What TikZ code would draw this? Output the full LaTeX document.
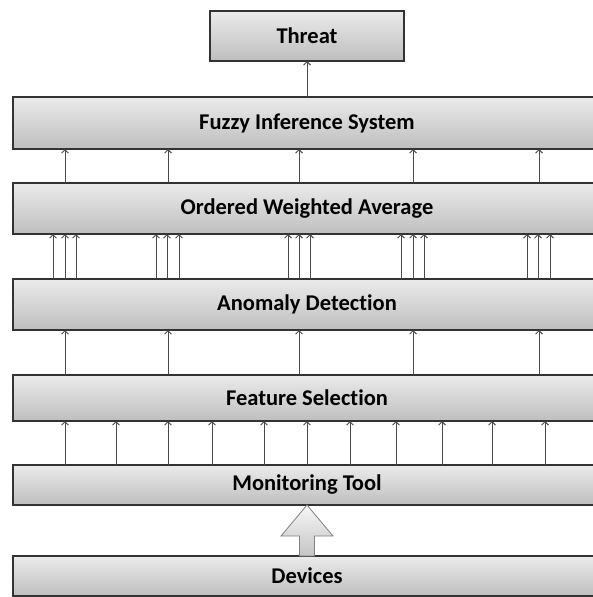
\documentclass[tikz,border=0pt]{standalone}
\usepackage{fontspec}
\setmainfont{Carlito}[Ligatures=NoCommon]
\usetikzlibrary{arrows.meta,calc}
\definecolor{boxline}{HTML}{333333}
\definecolor{arrline}{HTML}{4A4A4A}
\definecolor{shtop}{HTML}{EBEBEB}
\definecolor{shbot}{HTML}{BEBEBE}
\tikzset{
  layerbox/.style={draw=boxline, line width=1.2pt, top color=shtop, bottom color=shbot,
    inner sep=0pt, outer sep=0pt, font=\bfseries\fontsize{22.5}{26}\selectfont},
  arr/.style={draw=arrline, line width=1pt, -{Straight Barb[length=3.5pt,width=7pt,line width=0.9pt]}},
  blockarrow/.style={draw=arrline!70, line width=0.8pt, top color=shtop!40!white, bottom color=shbot!90!white},
}
\begin{document}
\begin{tikzpicture}[x=1pt,y=-1pt]
\useasboundingbox (0,0) rectangle (592,597);
\node[layerbox, minimum width=194pt, minimum height=50pt] (threat) at (307,36) {Threat};
\node[layerbox, minimum width=588pt, minimum height=52pt] (fuzzy) at (307,123) {Fuzzy Inference System};
\node[layerbox, minimum width=588pt, minimum height=51pt] (owa) at (307,208.5) {Ordered Weighted Average};
\node[layerbox, minimum width=588pt, minimum height=51pt] (anom) at (307,304.5) {Anomaly Detection};
\node[layerbox, minimum width=588pt, minimum height=46pt] (feat) at (307,398) {Feature Selection};
\node[layerbox, minimum width=588pt, minimum height=40pt] (mon) at (307,485) {Monitoring Tool};
\node[layerbox, minimum width=588pt, minimum height=40pt] (dev) at (307,576) {Devices};

\draw[arr] (fuzzy.north) -- (threat.south);
\foreach \x in {65,168,299,413,539}
  \draw[arr] ([xshift=\x-13]owa.north west) -- ([xshift=\x-13]fuzzy.south west);
\foreach \x in {53,65,76,156,167,179,288,299,310,401,413,424,527,538,550}
  \draw[arr] ([xshift=\x-13]anom.north west) -- ([xshift=\x-13]owa.south west);
\foreach \x in {65,168,299,413,539}
  \draw[arr] ([xshift=\x-13]feat.north west) -- ([xshift=\x-13]anom.south west);
\foreach \x in {65,116,168,212,264,307,350,396,442,492,545}
  \draw[arr] ([xshift=\x-13]mon.north west) -- ([xshift=\x-13]feat.south west);

\path[blockarrow] (mon.south) -- ++(26,31) -- ++(-18.5,0) |- (dev.north) -- ++(-7.5,0)
  |- ($(mon.south)+(-26,31)$) -- cycle;
\end{tikzpicture}
\end{document}
